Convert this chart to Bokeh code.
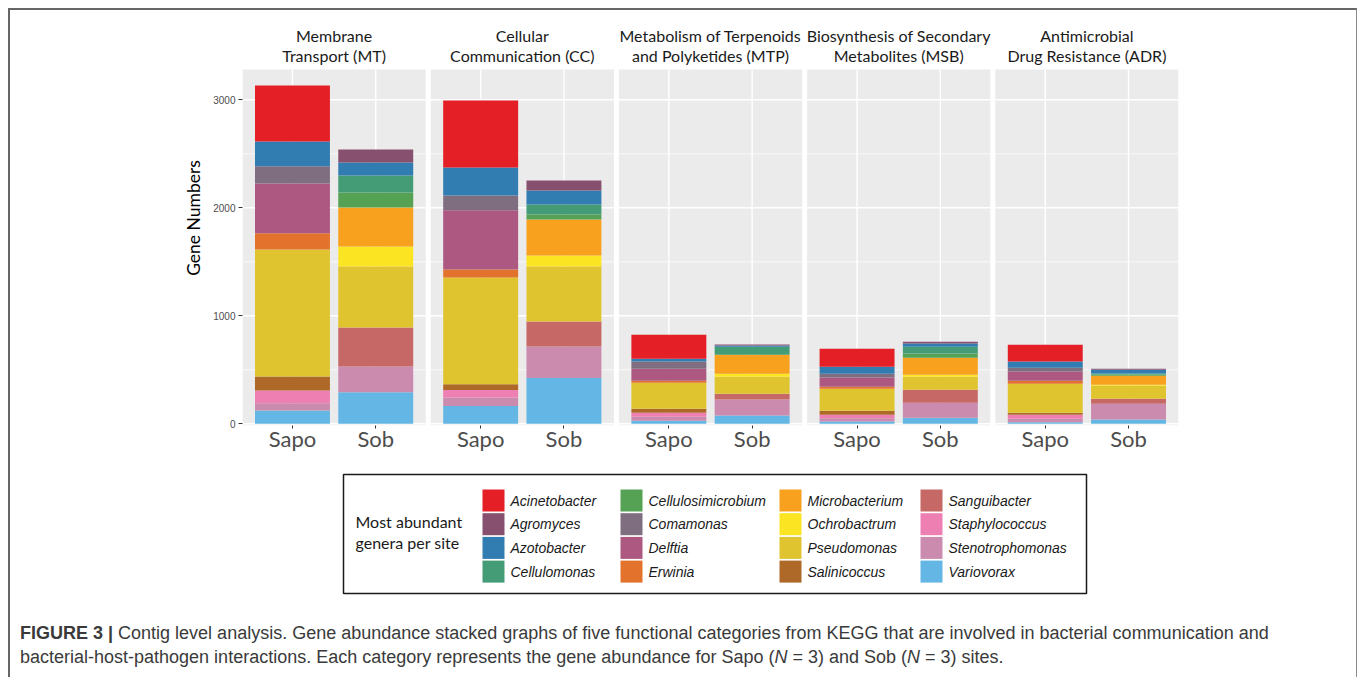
from bokeh.plotting import figure
from bokeh.models import Range1d, FixedTicker, CustomJSTickFormatter, ColumnDataSource, Div
from bokeh.layouts import column
from bokeh.core.properties import value
from bokeh.embed import file_html
from bokeh.resources import INLINE

# ---------------- data ----------------
categories = ["MT", "CC", "MTP", "MSB", "ADR"]
strip_line1 = ["Membrane", "Cellular", "Metabolism of Terpenoids",
               "Biosynthesis of Secondary", "Antimicrobial"]
strip_line2 = ["Transport (MT)", "Communication (CC)", "and Polyketides (MTP)",
               "Metabolites (MSB)", "Drug Resistance (ADR)"]
sites = ["Sapo", "Sob"]
y_ticks = [0, 1000, 2000, 3000]
y_minor = [500, 1500, 2500]

genera = ["Acinetobacter", "Agromyces", "Azotobacter", "Cellulomonas",
          "Cellulosimicrobium", "Comamonas", "Delftia", "Erwinia",
          "Microbacterium", "Ochrobactrum", "Pseudomonas", "Salinicoccus",
          "Sanguibacter", "Staphylococcus", "Stenotrophomonas", "Variovorax"]
colors = ["#E41F26", "#88506F", "#317CB0", "#449C76",
          "#56A255", "#7F6E80", "#AC5880", "#E3732C",
          "#F8A11F", "#FBE422", "#DFC42F", "#AE6929",
          "#C66866", "#EE7FB2", "#CA8BAE", "#64B7E4"]

# order: MT-Sapo, MT-Sob, CC-Sapo, CC-Sob, MTP-Sapo, MTP-Sob, MSB-Sapo, MSB-Sob, ADR-Sapo, ADR-Sob
acinetobacter      = [518, 0, 620, 0, 222, 0, 166, 0, 154, 0]
agromyces          = [0, 121, 0, 93, 0, 9, 0, 15, 0, 9]
azotobacter        = [229, 120, 259, 129, 25, 12, 65, 31, 59, 34]
cellulomonas       = [0, 157, 0, 93, 0, 74, 0, 62, 0, 9]
cellulosimicrobium = [0, 139, 0, 46, 0, 0, 0, 40, 0, 13]
comamonas          = [160, 0, 136, 0, 68, 0, 34, 0, 33, 0]
delftia            = [460, 0, 549, 0, 111, 0, 86, 0, 87, 0]
erwinia            = [151, 0, 74, 0, 18, 0, 19, 0, 28, 0]
microbacterium     = [0, 361, 0, 334, 0, 176, 0, 157, 0, 83]
ochrobactrum       = [0, 185, 0, 101, 0, 28, 0, 19, 0, 9]
pseudomonas        = [1176, 565, 988, 510, 241, 157, 204, 120, 268, 121]
salinicoccus       = [129, 0, 55, 0, 37, 0, 37, 0, 19, 0]
sanguibacter       = [0, 361, 0, 231, 0, 53, 0, 121, 0, 46]
staphylococcus     = [118, 0, 68, 0, 37, 0, 31, 0, 37, 0]
stenotrophomonas   = [68, 238, 80, 293, 37, 148, 30, 138, 31, 145]
variovorax         = [123, 293, 164, 423, 28, 77, 22, 56, 15, 40]

series = [acinetobacter, agromyces, azotobacter, cellulomonas,
          cellulosimicrobium, comamonas, delftia, erwinia,
          microbacterium, ochrobactrum, pseudomonas, salinicoccus,
          sanguibacter, staphylococcus, stenotrophomonas, variovorax]

# ---------------- layout constants ----------------
W = 1336
H1 = 460
FRAME_L, FRAME_W = 232, 936
PANEL_W = 2.2        # panel width in category units
PANEL_GAP = 0.06     # gap between panels in category units
PITCH = PANEL_W + PANEL_GAP
X_END = len(categories) * PANEL_W + (len(categories) - 1) * PANEL_GAP
Y_START, Y_END = -15.7, 3827.0
PANEL_TOP = 3281.0
STRIP_Y1, STRIP_Y2 = 3595.0, 3406.0
BAR_W = 0.9

offsets = [i * PITCH for i in range(len(categories))]
xs = []
for o in offsets:
    for j in range(len(sites)):
        xs.append(o + 0.6 + j)

# ---------------- main chart ----------------
p = figure(width=W, height=H1, x_range=Range1d(0, X_END), y_range=Range1d(Y_START, Y_END),
           output_backend="svg", toolbar_location=None,
           min_border_left=FRAME_L, min_border_right=W - FRAME_L - FRAME_W,
           min_border_top=0, min_border_bottom=H1 - 415)
p.outline_line_color = None
p.xgrid.visible = False
p.ygrid.visible = False
p.background_fill_color = "white"
p.border_fill_color = "white"

# panel backgrounds
p.quad(left=offsets, right=[o + PANEL_W for o in offsets],
       bottom=Y_START, top=PANEL_TOP, fill_color="#EBEBEB", line_color=None)

# grid lines
hx0, hx1, hy = [], [], []
for o in offsets:
    for t in y_ticks:
        hx0.append(o); hx1.append(o + PANEL_W); hy.append(t)
p.segment(x0=hx0, x1=hx1, y0=hy, y1=hy, line_color="white", line_width=1.4)
mx0, mx1, my = [], [], []
for o in offsets:
    for t in y_minor:
        mx0.append(o); mx1.append(o + PANEL_W); my.append(t)
p.segment(x0=mx0, x1=mx1, y0=my, y1=my, line_color="white", line_width=0.7)
p.segment(x0=xs, x1=xs, y0=Y_START, y1=PANEL_TOP, line_color="white", line_width=1.4)

# stacked bars
data = {"x": xs}
for g, s in zip(genera, series):
    data[g] = s
src = ColumnDataSource(data)
p.vbar_stack(genera[::-1], x="x", width=BAR_W, source=src,
             fill_color=colors[::-1], line_color=None)

# strip titles
centers = [o + PANEL_W / 2 for o in offsets]
for lines, yv in ((strip_line1, STRIP_Y1), (strip_line2, STRIP_Y2)):
    p.text(x=centers, y=[yv] * len(centers), text=lines, text_align="center",
           text_baseline="middle", text_font=value("Lato"), text_font_size="16px",
           text_color="#1A1A1A")

# axes
p.yaxis.ticker = FixedTicker(ticks=y_ticks)
p.yaxis.axis_line_color = None
p.yaxis.major_tick_out = 4
p.yaxis.major_tick_in = 0
p.yaxis.major_tick_line_color = "#333333"
p.yaxis.minor_tick_line_color = None
p.yaxis.major_label_text_font = "Liberation Sans"
p.yaxis.major_label_text_font_size = "10px"
p.yaxis.major_label_text_color = "#4D4D4D"
p.yaxis.major_label_standoff = 3
p.yaxis.axis_label = "Gene Numbers"
p.yaxis.axis_label_text_font = "Lato"
p.yaxis.axis_label_text_font_size = "17.5px"
p.yaxis.axis_label_text_font_style = "normal"
p.yaxis.axis_label_text_color = "#000000"
p.yaxis.axis_label_standoff = 6

p.xaxis.ticker = FixedTicker(ticks=xs)
p.xaxis.formatter = CustomJSTickFormatter(args=dict(labels=sites),
                                          code="return labels[index % labels.length];")
p.xaxis.axis_line_color = None
p.xaxis.major_tick_out = 3
p.xaxis.major_tick_in = 0
p.xaxis.major_tick_line_color = "#333333"
p.xaxis.minor_tick_line_color = None
p.xaxis.major_label_text_font = "Lato"
p.xaxis.major_label_text_font_size = "22px"
p.xaxis.major_label_text_color = "#4D4D4D"
p.xaxis.major_label_standoff = -4

# ---------------- legend panel ----------------
# data coordinates of this panel equal pixel positions inside the canvas
H2 = 142
q = figure(width=W, height=H2, x_range=Range1d(FRAME_L, FRAME_L + FRAME_W),
           y_range=Range1d(H2, 0),
           x_axis_type=None, y_axis_type=None, output_backend="svg",
           toolbar_location=None, min_border_left=FRAME_L,
           min_border_right=W - FRAME_L - FRAME_W, min_border_top=0, min_border_bottom=0)
q.outline_line_color = None
q.background_fill_color = "white"
q.border_fill_color = "white"
for g in q.grid:
    g.visible = False

q.quad(left=[333], right=[1076], top=[4], bottom=[123], fill_color=None,
       line_color="#1A1A1A", line_width=1.5)
q.text(x=[345, 345], y=[50.5, 71.5], text=["Most abundant", "genera per site"],
       text_baseline="middle", text_align="left", text_font=value("Lato"),
       text_font_size="16px", text_color="#1A1A1A")

col_left = [472, 610, 769, 910]
row_top = [19, 42.7, 66.4, 90.1]
SW = 22
sx, sy, tx = [], [], []
for k in range(len(genera)):
    c, r = k // 4, k % 4
    sx.append(col_left[c] + SW / 2)
    sy.append(row_top[r] + SW / 2)
    tx.append(col_left[c] + 28)
q.rect(x=sx, y=sy, width=SW, height=SW, fill_color=colors, line_color=None)
q.text(x=tx, y=sy, text=genera, text_baseline="middle", text_align="left",
       text_font=value("Liberation Sans"), text_font_style="italic",
       text_font_size="14px", text_color="#1A1A1A")

# ---------------- caption ----------------
caption = Div(width=W, height=57, text=(
    '<div style="font-family:\'Liberation Sans\',Arial,sans-serif;font-size:18px;'
    'line-height:24px;color:#3A3A3A;padding-left:5px;padding-top:4px;white-space:nowrap;margin:0">'
    '<b>FIGURE 3 |</b> Contig level analysis. Gene abundance stacked graphs of five functional '
    'categories from KEGG that are involved in bacterial communication and<br>'
    'bacterial-host-pathogen interactions. Each category represents the gene abundance for '
    'Sapo (<i>N</i> = 3) and Sob (<i>N</i> = 3) sites.</div>'))

layout = column(p, q, caption, margin=(8, 0, 0, 8),
                styles={"border-left": "2px solid #666666",
                        "border-top": "2px solid #666666",
                        "border-right": "1px solid #8A8A8A"})

open("out.html", "w").write(file_html(layout, INLINE))
